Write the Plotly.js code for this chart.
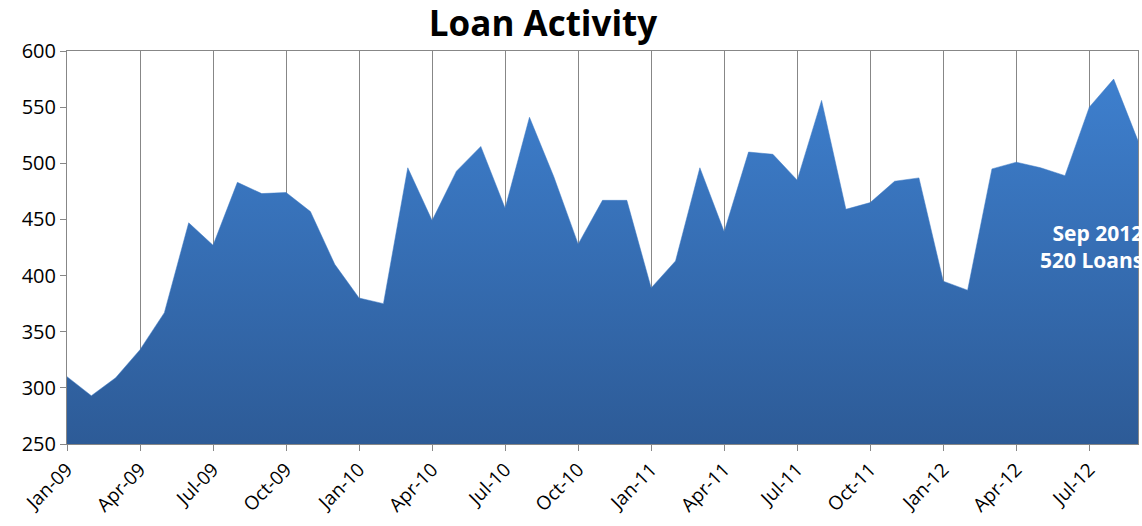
<!DOCTYPE html>
<html>
<head>
<meta charset="utf-8">
<script src="https://cdn.plot.ly/plotly-3.0.1.min.js"></script>
<style>html,body{margin:0;padding:0;background:#fff;}#chart{width:1142px;height:526px;}</style>
</head>
<body>
<div id="chart"></div>
<script>
const months = [
  "Jan-09","Feb-09","Mar-09","Apr-09","May-09","Jun-09","Jul-09","Aug-09","Sep-09","Oct-09","Nov-09","Dec-09",
  "Jan-10","Feb-10","Mar-10","Apr-10","May-10","Jun-10","Jul-10","Aug-10","Sep-10","Oct-10","Nov-10","Dec-10",
  "Jan-11","Feb-11","Mar-11","Apr-11","May-11","Jun-11","Jul-11","Aug-11","Sep-11","Oct-11","Nov-11","Dec-11",
  "Jan-12","Feb-12","Mar-12","Apr-12","May-12","Jun-12","Jul-12","Aug-12","Sep-12"
];
const loans = [
  310, 293, 309, 334, 367, 447, 427, 483, 473, 474, 457, 410,
  380, 375, 496, 449, 493, 515, 460, 541, 488, 428, 467, 467,
  389, 413, 496, 439, 510, 508, 485, 556, 459, 465, 484, 487,
  395, 387, 495, 501, 496, 489, 550, 575, 520
];
const tickLabels = ["Jan-09","Apr-09","Jul-09","Oct-09","Jan-10","Apr-10","Jul-10","Oct-10","Jan-11","Apr-11","Jul-11","Oct-11","Jan-12","Apr-12","Jul-12"];
const noteText = "Sep 2012<br>520 Loans";

const trace = {
  type: "scatter",
  mode: "lines",
  x: months,
  y: loans,
  fill: "tozeroy",
  line: {color: "#3A78C4", width: 0.5},
  fillgradient: {
    type: "vertical",
    start: 250,
    stop: 600,
    colorscale: [[0, "#2D5B97"], [1, "#3F82D2"]]
  },
  hoverinfo: "x+y"
};

const gridCol = "#878787";
const layout = {
  width: 1142,
  height: 526,
  margin: {l: 67, r: 4, t: 51, b: 82},
  paper_bgcolor: "#ffffff",
  plot_bgcolor: "#ffffff",
  showlegend: false,
  title: {
    text: "<b>Loan Activity</b>",
    font: {family: "Open Sans, sans-serif", size: 35, color: "#000"},
    xref: "container",
    x: 0.4755, xanchor: "center",
    y: 0.955, yanchor: "middle"
  },
  xaxis: {
    type: "category",
    range: [0, months.length - 1],
    tickmode: "array",
    tickvals: tickLabels,
    ticktext: tickLabels,
    tickangle: -45,
    ticks: "outside",
    ticklen: 6,
    tickcolor: gridCol,
    showgrid: true,
    gridcolor: gridCol,
    gridwidth: 1,
    showline: true,
    linecolor: gridCol,
    linewidth: 1,
    mirror: true,
    zeroline: false,
    tickfont: {family: "Open Sans, sans-serif", size: 19, color: "#000"}
  },
  yaxis: {
    range: [250, 600],
    dtick: 50,
    tick0: 250,
    ticks: "outside",
    ticklen: 6,
    tickcolor: gridCol,
    showgrid: false,
    showline: true,
    linecolor: gridCol,
    linewidth: 1,
    mirror: true,
    zeroline: false,
    tickfont: {family: "Open Sans, sans-serif", size: 20, color: "#000"}
  },
  annotations: [{
    xref: "paper", yref: "paper",
    x: 1.007, y: 0.503,
    xanchor: "right", yanchor: "middle",
    align: "right",
    showarrow: false,
    text: "<b>" + noteText + "</b>",
    font: {family: "Open Sans, sans-serif", size: 21, color: "#ffffff"}
  }]
};

Plotly.newPlot("chart", [trace], layout, {displayModeBar: false, staticPlot: true});
</script>
</body>
</html>
